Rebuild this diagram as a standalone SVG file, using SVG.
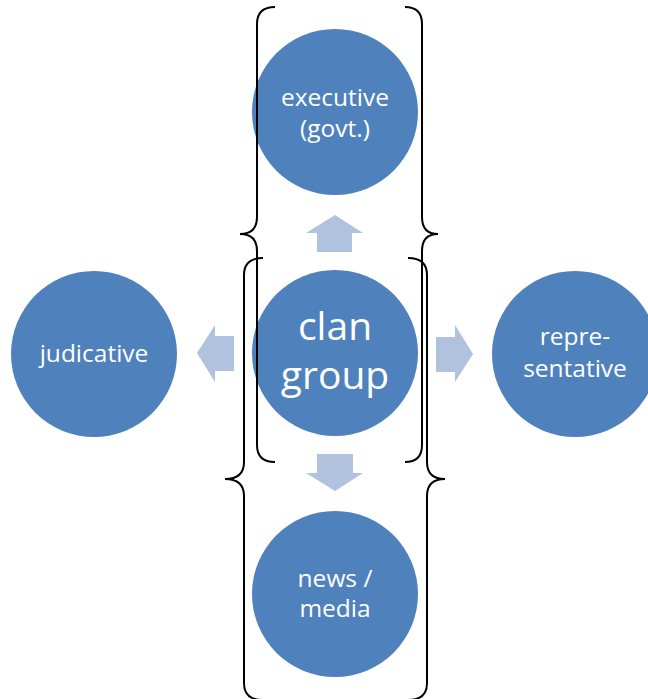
<svg xmlns="http://www.w3.org/2000/svg" width="648" height="699" viewBox="0 0 648 699">
<style>
.node{fill:#4F81BD}
.t{fill:#fff;font-family:"Open Sans","Liberation Sans",sans-serif;font-size:24.5px;text-anchor:middle}
.big{font-size:39px}
.arrow{fill:#B1C2DE}
.brace{fill:none;stroke:#000;stroke-width:2}
</style>
<rect width="648" height="699" fill="#fff"/>
<g id="connectors">
<polygon class="arrow" points="317,252 317,233 306,233 335,215 363,233 352,233 352,252"/>
<polygon class="arrow" points="317,454 353,454 353,473 363,473 335,491 306,473 317,473"/>
<polygon class="arrow" points="234,336 234,371 215,371 215,382 197,353 215,325 215,336"/>
<polygon class="arrow" points="436,337 436,372 455,372 455,382 473,354 455,325 455,337"/>
</g>
<g id="executive"><circle class="node" cx="335" cy="112" r="83"/><text class="t" x="335" y="106">executive</text><text class="t" x="335" y="137">(govt.)</text></g>
<g id="clan-group"><circle class="node" cx="335" cy="353" r="83"/><text class="t big" x="335" y="340">clan</text><text class="t big" x="335" y="389">group</text></g>
<g id="news-media"><circle class="node" cx="335" cy="594" r="83"/><text class="t" x="335" y="587">news /</text><text class="t" x="335" y="617">media</text></g>
<g id="judicative"><circle class="node" cx="94" cy="354" r="83"/><text class="t" x="94" y="362">judicative</text></g>
<g id="representative"><circle class="node" cx="575" cy="354" r="83"/><text class="t" x="575" y="345">repre-</text><text class="t" x="575" y="377">sentative</text></g>
<g id="braces">
<path class="brace" d="M275,7 Q257,7 257,24 L257,217 Q257,234 240,234 Q257,234 257,251 L257,445 Q257,462 275,462"/>
<path class="brace" d="M405,7 Q422,7 422,24 L422,217 Q422,234 438,234 Q422,234 422,251 L422,445 Q422,462 405,462"/>
<path class="brace" d="M263,258 Q244,258 244,275 L244,462 Q244,479 225,479 Q244,479 244,496 L244,683 Q244,700 263,700"/>
<path class="brace" d="M408,258 Q427,258 427,275 L427,462 Q427,479 445,479 Q427,479 427,496 L427,683 Q427,700 408,700"/>
</g>
</svg>
